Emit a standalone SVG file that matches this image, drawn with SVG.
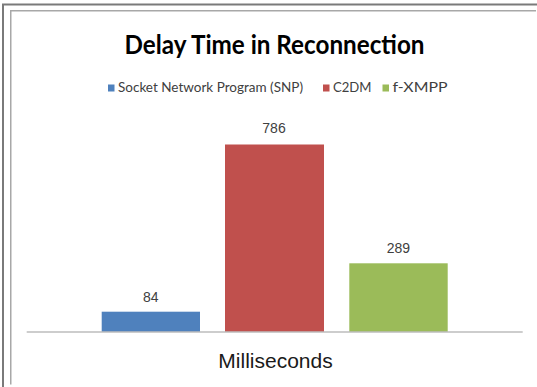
<svg xmlns="http://www.w3.org/2000/svg" width="537" height="387" viewBox="0 0 537 387">
  <style>
    .frame-outer { stroke: #7a7a7a; stroke-width: 2; fill: none; }
    .frame-inner { stroke: #a8a8a8; stroke-width: 1.5; fill: none; }
    .title { font-family: Lato, "Liberation Sans", Arial, sans-serif; font-weight: bold; font-size: 27px; fill: #000; }
    .legend { font-family: Lato, "Liberation Sans", Arial, sans-serif; font-size: 14px; fill: #404040; }
    .value { font-family: "Liberation Sans", Arial, sans-serif; font-size: 14px; fill: #404040; text-anchor: middle; }
    .axis-label { font-family: "Liberation Sans", Arial, sans-serif; font-size: 21px; fill: #1a1a1a; text-anchor: middle; }
    .axis { stroke: #bdbdbd; stroke-width: 1.5; }
    .snp { fill: #4f81bd; }
    .c2dm { fill: #c0504d; }
    .xmpp { fill: #9bbb59; }
  </style>
  <rect x="0" y="0" width="537" height="387" fill="#ffffff"/>
  <g id="frame">
    <polyline class="frame-outer" points="3,387 3,4.5 537,4.5"/>
    <polyline class="frame-inner" points="10.75,384.5 10.75,10.75 536,10.75"/>
  </g>
  <g id="title">
    <text class="title" x="274.5" y="53.5" text-anchor="middle" textLength="300" lengthAdjust="spacingAndGlyphs">Delay Time in Reconnection</text>
  </g>
  <g id="legend">
    <rect class="snp" x="108" y="84.5" width="6.5" height="7"/>
    <text class="legend" x="118" y="91.7" textLength="185" lengthAdjust="spacingAndGlyphs">Socket Network Program (SNP)</text>
    <rect class="c2dm" x="323" y="84.5" width="6.5" height="7"/>
    <text class="legend" x="333" y="91.7" textLength="38.5" lengthAdjust="spacingAndGlyphs">C2DM</text>
    <rect class="xmpp" x="382.5" y="84.5" width="6.5" height="7"/>
    <text class="legend" x="392.5" y="91.7" textLength="55" lengthAdjust="spacingAndGlyphs">f-XMPP</text>
  </g>
  <g id="bar-snp">
    <rect class="snp" x="101.7" y="311.7" width="98.3" height="20.3"/>
    <text class="value" x="150.8" y="301.7">84</text>
  </g>
  <g id="bar-c2dm">
    <rect class="c2dm" x="225" y="144.5" width="99" height="187.5"/>
    <text class="value" x="274" y="133.3">786</text>
  </g>
  <g id="bar-xmpp">
    <rect class="xmpp" x="349.3" y="263.3" width="98.4" height="68.7"/>
    <text class="value" x="398.4" y="252.7">289</text>
  </g>
  <g id="axis">
    <line class="axis" x1="26.7" y1="332" x2="522.7" y2="332"/>
    <text class="axis-label" x="275.5" y="368.3">Milliseconds</text>
  </g>
</svg>
